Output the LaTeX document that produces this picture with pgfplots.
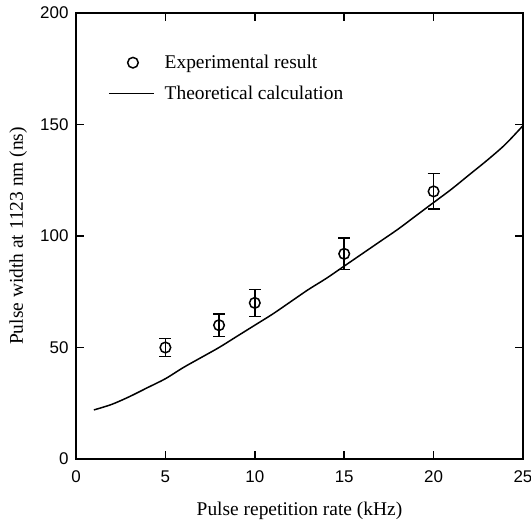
\documentclass[border=0pt]{standalone}
\usepackage{pgfplots}
\pgfplotsset{compat=1.18}
\usepackage{fontspec}
\setmainfont{Liberation Serif}
\newfontfamily\ticksf{Liberation Sans}
\pgfplotsset{
  legmark/.style={legend image code/.code={\draw[##1, line width=1.5pt] plot coordinates {(24bp,0)}; \path (0,0) (45bp,0);}},
  legline/.style={legend image code/.code={\draw[##1, line width=1.5pt] (0,0) -- (45bp,0);}},
}
\begin{document}
\begin{tikzpicture}
\path[use as bounding box] (-76bp,-65bp) rectangle (455bp,459bp);
\begin{axis}[
  at={(0,0)}, anchor=south west,
  scale only axis,
  width=447bp, height=446bp,
  xmin=0, xmax=25, ymin=0, ymax=200,
  xtick={0,5,10,15,20,25},
  ytick={0,50,100,150,200},
  tick align=inside,
  major tick length=8.5bp,
  axis line style={line width=1.5pt},
  every tick/.style={line width=1.5pt, black},
  /pgf/number format/assume math mode=true,
  tick label style={font=\ticksf\fontsize{17}{19}\selectfont},
  xticklabel style={yshift=-8bp},
  yticklabel style={xshift=-4bp},
  label style={font=\fontsize{19.5}{22}\selectfont},
  xlabel={Pulse repetition rate (kHz)},
  ylabel={Pulse width at 1123 nm (ns)},
  xlabel style={at={(axis description cs:0.5,0)}, anchor=base, yshift=-56bp},
  ylabel style={at={(axis description cs:-0.1186,0.5)}, anchor=base},
  legend style={draw=none, fill=none, at={(32bp,406bp)}, anchor=north west,
    inner sep=0pt, font=\fontsize{19.5}{22}\selectfont, row sep=12bp,
    legend cell align=left},
]
\addplot[only marks, mark=o, mark size=5.3bp, line width=1.5pt, black, legmark,
  error bars/.cd, y dir=both, y explicit, error mark options={rotate=90, mark size=6bp, line width=1.5pt},
  error bar style={line width=1.5pt}]
  coordinates {
  (5,50) +- (0,4)
  (8,60) +- (0,5)
  (10,70) +- (0,6)
  (15,92) +- (0,7)
  (20,120) +- (0,8)
  };
\addlegendentry{\hspace{8bp}Experimental result}
\addplot[black, line width=1.5pt, smooth, legline] coordinates {
  (1,22) (2,24.5) (3,28) (4,32) (5,36) (6,41) (7,45.5) (8,50) (9,55) (10,60)
  (11,65) (12,70.5) (13,76) (14,81) (15,86.5) (16,92) (17,97.5) (18,103)
  (19,109) (20,115) (21,121) (22,127.5) (23,134) (24,141) (25,149.5)
};
\addlegendentry{\hspace{8bp}Theoretical calculation}
\end{axis}
\end{tikzpicture}
\end{document}
